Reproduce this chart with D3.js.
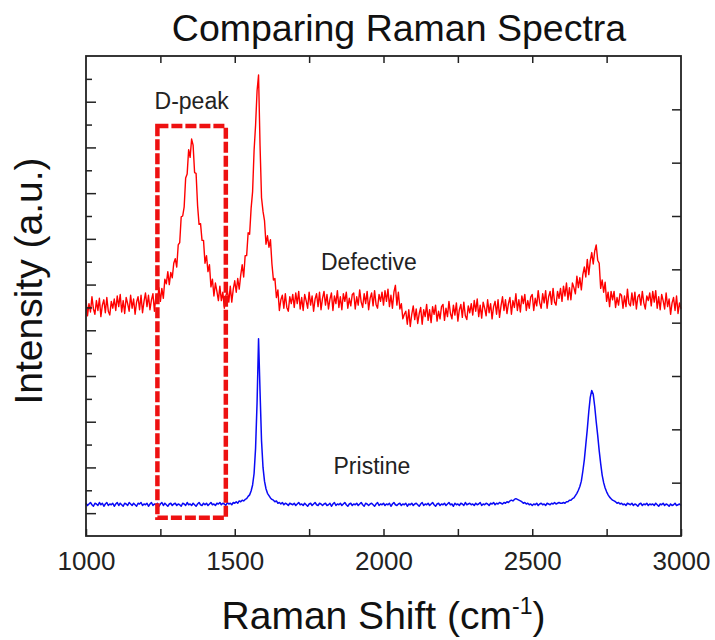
<!DOCTYPE html>
<html lang="en">
<head>
  <meta charset="UTF-8">
  <title>Comparing Raman Spectra</title>
  <script src="https://d3js.org/d3.v7.min.js"></script>
  <style>
    body {
      margin: 0;
      background: #fff;
      font-family: "Liberation Sans", Arial, sans-serif;
    }
    .tick line {
      stroke: #222;
      stroke-width: 1.5;
    }
    .tick text {
      fill: #222;
      font-size: 26px;
    }
  </style>
</head>
<body>
  <script>
    // Raman shift sampling grid (cm-1), every 5 from 1000 to 3000
    const shift = d3.range(1000, 3001, 5);

    // Defective sample, intensity (a.u.)
    const defective = [
      31.0, 28.9, 30.5, 29.4, 31.4, 29.8, 29.1, 30.9, 29.6, 31.2, 28.8, 30.3, 31.0, 29.3, 31.3, 29.5, 29.0, 30.8, 29.9, 31.1,
      29.6, 31.5, 30.1, 31.7, 29.4, 30.9, 29.2, 31.3, 30.5, 29.5, 31.6, 29.9, 31.1, 29.1, 30.7, 31.4, 29.7, 31.6, 29.3, 30.8,
      31.9, 30.1, 31.6, 29.7, 31.0, 31.8, 29.5, 31.5, 30.6, 32.6, 30.8, 32.5, 31.2, 33.7, 33.1, 34.7, 33.0, 34.6, 33.9, 35.8,
      36.4, 35.3, 38.2, 38.5, 41.9, 42.0, 43.2, 47.0, 47.5, 50.7, 49.7, 52.1, 51.3, 47.7, 47.6, 43.4, 40.9, 41.0, 38.8, 38.8,
      35.8, 36.8, 34.7, 35.6, 32.7, 33.7, 31.5, 33.2, 32.1, 30.9, 32.8, 30.9, 32.0, 29.9, 31.5, 32.2, 30.7, 32.8, 30.7, 32.4,
      33.5, 32.0, 33.8, 32.4, 34.2, 35.6, 34.0, 36.8, 36.8, 39.8, 39.6, 43.0, 45.2, 50.6, 53.9, 58.4, 60.5, 51.3, 44.4, 42.6,
      41.4, 38.3, 39.4, 37.9, 38.9, 35.7, 33.6, 33.8, 31.3, 32.3, 29.6, 31.0, 31.6, 29.9, 31.8, 30.0, 29.5, 31.4, 30.5, 31.7,
      30.0, 31.9, 30.5, 32.1, 29.8, 31.3, 29.6, 31.7, 30.9, 29.9, 32.0, 30.3, 31.5, 29.5, 31.1, 31.8, 30.1, 32.0, 29.7, 31.2,
      32.1, 30.3, 31.7, 29.8, 31.1, 31.9, 29.6, 31.5, 30.5, 32.2, 30.0, 31.4, 29.7, 31.8, 30.8, 32.0, 29.9, 31.2, 30.2, 31.7,
      31.9, 29.8, 31.4, 30.3, 32.3, 30.7, 30.0, 31.8, 30.5, 32.1, 29.7, 31.2, 31.9, 30.2, 32.2, 30.4, 29.9, 31.7, 30.8, 32.0,
      30.3, 32.2, 30.8, 32.4, 30.1, 31.6, 29.9, 32.0, 32.9, 30.3, 32.0, 29.8, 30.5, 28.5, 29.1, 29.5, 27.8, 29.7, 27.5, 29.1,
      30.2, 28.4, 29.8, 27.9, 29.2, 30.0, 27.8, 29.7, 28.8, 30.4, 28.3, 29.7, 28.0, 30.1, 29.1, 30.3, 28.2, 29.5, 28.5, 30.1,
      30.4, 28.3, 29.9, 28.8, 30.8, 29.2, 28.5, 30.3, 29.0, 30.6, 28.2, 29.7, 30.4, 28.7, 30.7, 28.9, 28.4, 30.2, 29.3, 30.5,
      29.0, 30.9, 29.5, 31.1, 28.8, 30.3, 28.6, 30.7, 29.9, 28.9, 31.0, 29.3, 30.5, 28.5, 30.1, 30.8, 29.1, 31.0, 28.7, 30.2,
      31.4, 29.6, 31.0, 29.2, 30.5, 31.3, 29.1, 30.9, 30.0, 31.8, 29.6, 31.0, 29.4, 31.5, 30.5, 31.7, 29.6, 30.9, 29.9, 31.4,
      31.7, 29.6, 31.2, 30.2, 32.2, 30.6, 29.9, 31.8, 30.6, 32.2, 29.9, 31.4, 32.1, 30.4, 32.5, 30.7, 30.3, 32.1, 31.2, 32.5,
      30.8, 32.8, 31.5, 33.2, 31.0, 32.6, 31.0, 33.2, 32.6, 31.8, 34.1, 32.6, 33.9, 32.3, 34.3, 35.3, 34.0, 36.3, 34.3, 36.1,
      37.2, 35.7, 37.4, 38.2, 36.2, 35.8, 32.5, 33.6, 32.0, 33.3, 30.8, 32.0, 30.1, 32.1, 31.0, 32.1, 30.0, 31.3, 30.3, 31.8,
      31.6, 29.9, 31.5, 30.1, 32.4, 30.5, 30.2, 31.9, 30.3, 32.0, 29.8, 31.4, 31.7, 30.3, 32.1, 30.6, 29.8, 31.5, 30.9, 31.9,
      30.2, 32.1, 30.7, 32.2, 29.9, 31.4, 29.7, 31.7, 30.9, 29.8, 31.9, 30.1, 31.1, 29.1, 30.6, 31.3, 29.6, 31.5, 29.2, 30.6,
      29.8
    ];

    // Pristine sample, intensity (a.u.)
    const pristine = [
      4.3, 4.0, 4.2, 4.4, 4.1, 3.9, 4.3, 4.2, 4.0, 4.4, 4.1, 4.3, 3.9, 4.2, 4.4, 4.0, 4.2, 4.1, 4.3, 3.9,
      4.2, 4.4, 4.0, 4.3, 4.1, 3.9, 4.3, 4.2, 4.0, 4.4, 4.2, 4.0, 4.3, 4.1, 3.9, 4.3, 4.2, 4.4, 4.0, 4.2,
      4.1, 4.3, 3.9, 4.2, 4.4, 4.0, 4.2, 4.1, 4.3, 3.9, 4.2, 4.4, 4.0, 4.3, 4.1, 3.9, 4.2, 4.3, 4.0, 4.2,
      4.3, 4.0, 4.2, 4.1, 3.9, 4.3, 4.2, 4.0, 4.4, 4.1, 4.2, 4.0, 4.3, 4.1, 3.9, 4.2, 4.4, 4.1, 4.0, 4.3,
      4.1, 4.3, 4.0, 4.2, 4.4, 4.1, 4.2, 4.0, 4.3, 4.2, 4.4, 4.1, 4.3, 4.2, 4.0, 4.4, 4.2, 4.3, 4.1, 4.4,
      4.3, 4.5, 4.3, 4.6, 4.5, 4.7, 4.6, 4.8, 4.9, 5.2, 5.4, 5.9, 6.7, 8.2, 11.5, 17.5, 25.9, 19.0, 12.5, 9.0,
      7.2, 6.2, 5.6, 5.3, 5.0, 4.8, 4.7, 4.5, 4.6, 4.3, 4.4, 4.2, 4.4, 4.1, 4.3, 4.2, 4.0, 4.3, 4.2, 4.1,
      4.3, 4.0, 4.2, 4.4, 4.1, 4.2, 4.0, 4.3, 4.1, 3.9, 4.2, 4.3, 4.0, 4.2, 4.4, 4.1, 4.0, 4.3, 4.2, 4.0,
      4.2, 4.3, 4.0, 4.1, 4.3, 3.9, 4.2, 4.4, 4.0, 4.2, 4.1, 4.3, 4.0, 4.2, 4.4, 4.1, 3.9, 4.2, 4.3, 4.0,
      4.2, 4.1, 4.3, 4.0, 4.2, 4.4, 4.1, 3.9, 4.3, 4.2, 4.0, 4.2, 4.3, 4.1, 3.9, 4.2, 4.4, 4.0, 4.2, 4.1,
      4.3, 4.0, 4.2, 4.1, 4.3, 3.9, 4.2, 4.4, 4.1, 4.0, 4.2, 4.3, 4.0, 4.2, 4.1, 4.3, 3.9, 4.2, 4.1, 4.3,
      4.0, 4.2, 4.3, 4.1, 3.9, 4.2, 4.4, 4.0, 4.2, 4.1, 4.3, 4.0, 4.2, 4.4, 4.1, 3.9, 4.2, 4.3, 4.0, 4.2,
      4.1, 4.3, 4.0, 4.2, 4.4, 4.1, 4.2, 3.9, 4.3, 4.1, 4.2, 4.0, 4.3, 4.2, 4.0, 4.4, 4.1, 4.2, 4.3, 4.1,
      4.2, 4.0, 4.3, 4.1, 4.2, 4.4, 4.0, 4.2, 4.1, 4.3, 4.2, 4.0, 4.3, 4.2, 4.4, 4.1, 4.3, 4.2, 4.4, 4.3,
      4.2, 4.4, 4.3, 4.5, 4.4, 4.6, 4.7, 4.6, 4.8, 4.9, 4.8, 4.7, 4.6, 4.5, 4.3, 4.4, 4.2, 4.3, 4.1, 4.2,
      4.0, 4.2, 4.1, 4.3, 4.0, 4.2, 4.3, 4.1, 4.2, 4.0, 4.3, 4.2, 4.1, 4.3, 4.2, 4.4, 4.2, 4.3, 4.4, 4.3,
      4.3, 4.4, 4.3, 4.5, 4.5, 4.7, 4.7, 4.9, 5.0, 5.3, 5.6, 6.0, 6.5, 7.2, 8.5, 10.0, 12.0, 14.0, 16.3, 18.2,
      19.1, 18.6, 17.0, 15.0, 13.2, 11.2, 9.5, 8.0, 7.0, 6.3, 5.8, 5.4, 5.1, 4.9, 4.7, 4.6, 4.5, 4.3, 4.4, 4.2,
      4.3, 4.1, 4.2, 4.0, 4.3, 4.2, 4.1, 4.3, 4.0, 4.2, 4.1, 3.9, 4.2, 4.3, 4.0, 4.2, 4.1, 4.3, 4.0, 4.2,
      4.1, 4.2, 4.0, 4.3, 4.1, 3.9, 4.2, 4.1, 4.3, 4.0, 4.2, 4.1, 3.9, 4.2, 4.0, 4.1, 4.3, 4.0, 4.1, 4.2,
      4.0
    ];

    // Axis ticks
    const xTicks = [1000, 1250, 1500, 1750, 2000, 2250, 2500, 2750, 3000];
    const xLabels = [1000, 1500, 2000, 2500, 3000];
    const yMajorTicks = [3, 9, 15, 21, 27, 33, 39, 45, 51, 57];
    const yMinorTicks = [6, 12, 18, 24, 30, 36, 42, 48, 54, 60];
    const yRightTicks = [7, 14, 21, 28, 35, 42, 49, 56];

    // D-peak box (shift range, intensity range)
    const dBoxShift = [1240, 1470];
    const dBoxIntensity = [2.4, 53.8];

    // Text labels at data positions
    const notes = [
      { text: "D-peak", x: 1355, y: 56.0 },
      { text: "Defective", x: 1951, y: 34.9 },
      { text: "Pristine", x: 1961, y: 8.1 }
    ];

    const W = 715, H = 640;
    const margin = { top: 56, right: 34, bottom: 104, left: 86 };
    const width = W - margin.left - margin.right;
    const height = H - margin.top - margin.bottom;

    const svgRoot = d3.select("body").append("svg")
      .attr("width", W)
      .attr("height", H);

    const svg = svgRoot.append("g")
      .attr("transform", `translate(${margin.left},${margin.top})`);

    const x = d3.scaleLinear().domain([1000, 3000]).range([0, width]);
    const y = d3.scaleLinear().domain([0, 63]).range([height, 0]);

    // Lines
    const line = d3.line()
      .x((d, i) => x(shift[i]))
      .y(d => y(d));

    svg.append("path")
      .datum(pristine)
      .attr("fill", "none")
      .attr("stroke", "#0a0af5")
      .attr("stroke-width", 1.5)
      .attr("stroke-linejoin", "round")
      .attr("d", line);

    svg.append("path")
      .datum(defective)
      .attr("fill", "none")
      .attr("stroke", "#ff0000")
      .attr("stroke-width", 1.4)
      .attr("stroke-linejoin", "round")
      .attr("d", line);

    // Dashed box round the D peak
    svg.append("rect")
      .attr("x", x(dBoxShift[0]))
      .attr("y", y(dBoxIntensity[1]))
      .attr("width", x(dBoxShift[1]) - x(dBoxShift[0]))
      .attr("height", y(dBoxIntensity[0]) - y(dBoxIntensity[1]))
      .attr("fill", "none")
      .attr("stroke", "#ee1111")
      .attr("stroke-width", 4.5)
      .attr("stroke-dasharray", "11,3");

    // Axes (ticks point inward)
    const xAxis = svg.append("g")
      .attr("transform", `translate(0,${height})`)
      .call(d3.axisBottom(x)
        .tickValues(xTicks)
        .tickSizeInner(-7)
        .tickSizeOuter(0)
        .tickPadding(16)
        .tickFormat(d => xLabels.includes(d) ? d : ""));

    svg.append("g")
      .call(d3.axisTop(x).tickValues(xTicks.slice(1, -1)).tickSize(-7).tickFormat(""));

    svg.append("g")
      .call(d3.axisLeft(y).tickValues(yMajorTicks).tickSize(-10).tickFormat(""));

    svg.append("g")
      .call(d3.axisLeft(y).tickValues(yMinorTicks).tickSize(-6).tickFormat(""));

    svg.append("g")
      .attr("transform", `translate(${width},0)`)
      .call(d3.axisRight(y).tickValues(yRightTicks).tickSize(-9).tickFormat(""));

    svg.selectAll(".domain").remove();
    xAxis.selectAll(".tick text").attr("font-family", null);

    // Frame
    svg.append("rect")
      .attr("width", width)
      .attr("height", height)
      .attr("fill", "none")
      .attr("stroke", "#222")
      .attr("stroke-width", 1.8);

    // Annotations
    svg.selectAll(".note")
      .data(notes)
      .enter()
      .append("text")
      .attr("class", "note")
      .attr("x", d => x(d.x))
      .attr("y", d => y(d.y))
      .attr("text-anchor", "middle")
      .style("font-size", "23px")
      .style("fill", "#222")
      .text(d => d.text);

    // Title
    svgRoot.append("text")
      .attr("x", 399)
      .attr("y", 41)
      .attr("text-anchor", "middle")
      .style("font-size", "37.5px")
      .style("fill", "#111")
      .text("Comparing Raman Spectra");

    // X axis title with superscript
    const xTitle = svgRoot.append("text")
      .attr("x", margin.left + width / 2)
      .attr("y", 629)
      .attr("text-anchor", "middle")
      .style("font-size", "39px")
      .style("fill", "#111");
    xTitle.append("tspan").text("Raman Shift (cm");
    xTitle.append("tspan").attr("dy", -15).style("font-size", "23px").text("-1");
    xTitle.append("tspan").attr("dy", 15).text(")");

    // Y axis title
    svgRoot.append("text")
      .attr("transform", "translate(42,281) rotate(-90)")
      .attr("text-anchor", "middle")
      .style("font-size", "39px")
      .style("fill", "#111")
      .text("Intensity (a.u.)");
  </script>
</body>
</html>
